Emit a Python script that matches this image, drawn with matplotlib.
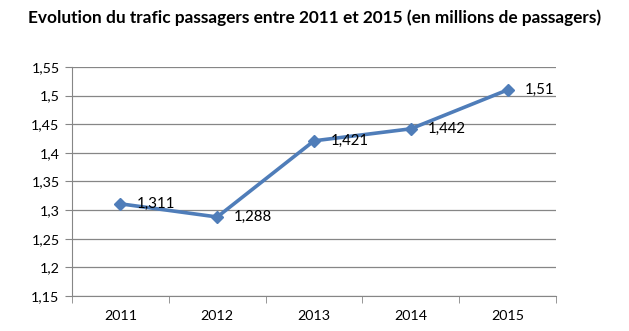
import matplotlib.pyplot as plt
from matplotlib.ticker import FuncFormatter

years = ["2011", "2012", "2013", "2014", "2015"]
traffic = [1.311, 1.288, 1.421, 1.442, 1.51]
y_ticks = [1.15, 1.2, 1.25, 1.3, 1.35, 1.4, 1.45, 1.5, 1.55]


def fr(v):
    return f"{v:g}".replace(".", ",")


plt.rcParams["font.family"] = ["Lato", "DejaVu Sans"]

fig = plt.figure(figsize=(6.29, 3.31), dpi=100)
ax = fig.add_axes([0.1145, 0.1057, 0.7695, 0.692])

x = range(len(years))
ax.plot(x, traffic, color="#4F7DB9", lw=2.6, marker="D", ms=6, zorder=3)
for xi, v in zip(x, traffic):
    ax.annotate(fr(v), (xi, v), xytext=(12, 0), textcoords="offset points",
                va="center", ha="left", fontsize=10.8, color="black")

ax.set_xlim(-0.5, len(years) - 0.5)
ax.set_ylim(1.15, 1.55)
ax.set_yticks(y_ticks)
ax.yaxis.set_major_formatter(FuncFormatter(lambda v, p: fr(round(v, 2))))
ax.set_xticks(list(x))
ax.set_xticklabels(years)
ax.set_xticks([i - 0.5 for i in range(len(years) + 1)], minor=True)
ax.tick_params(axis="x", which="major", length=0, pad=10, labelsize=10.3)
ax.tick_params(axis="x", which="minor", length=5, color="#868686", direction="out")
ax.tick_params(axis="y", length=5, color="#868686", direction="out", labelsize=10.3, pad=4)

ax.grid(axis="y", color="#868686", lw=0.9)
ax.set_axisbelow(True)
for s in ["top", "right"]:
    ax.spines[s].set_visible(False)
for s in ["left", "bottom"]:
    ax.spines[s].set_color("#868686")

fig.text(0.5, 0.945, "Evolution du trafic passagers entre 2011 et 2015 (en millions de passagers)",
         ha="center", va="center", fontsize=12.4, fontweight="bold")

fig.savefig("out.png", dpi=100)
